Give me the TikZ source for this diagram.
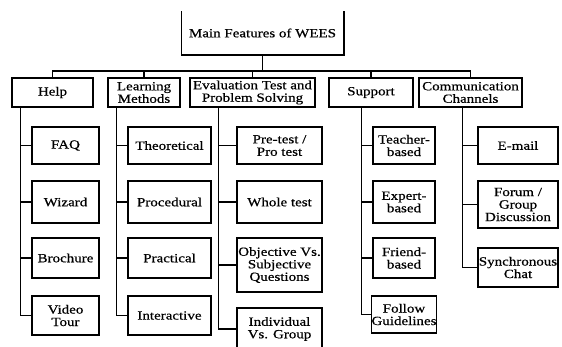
\documentclass[tikz,border=0pt]{standalone}
\usepackage{fontspec}
\setmainfont{Liberation Serif}[FakeStretch=1.2,FakeBold=0.6]
\begin{document}
\begin{tikzpicture}[x=1pt,y=-1pt,line width=1.5pt,
  box/.style={draw,align=center,inner sep=0pt,font=\fontsize{12.5}{12.5}\selectfont},
  boxsize/.style 2 args={minimum width=#1,minimum height=#2}]

  \useasboundingbox (0,0) rectangle (562,346);
  \clip (0,0) rectangle (562,346);

  % root
  \node[box,draw=none,boxsize={161}{42}] (main) at (262.5,33) {Main Features of WEES};
  \draw (main.north west) -- (main.south west) -- (main.south east) -- (main.north east);

  % first level
  \node[box,boxsize={81}{29}] (help) at (52.5,92.5) {Help};
  \node[box,boxsize={72}{29}] (learn) at (144,92.5) {Learning\\Methods};
  \node[box,boxsize={125}{29}] (eval) at (252.5,92.5) {Evaluation Test and\\Problem Solving};
  \node[box,boxsize={84}{29}] (supp) at (371,92.5) {Support};
  \node[box,boxsize={103}{29}] (comm) at (470.5,92.5) {Communication\\Channels};

  % help
  \node[box,boxsize={67}{37}] (faq) at (65.5,145.5) {FAQ};
  \node[box,boxsize={67}{42}] (wizard) at (65.5,202) {Wizard};
  \node[box,boxsize={67}{40}] (brochure) at (65.5,258) {Brochure};
  \node[box,boxsize={67}{39}] (video) at (65.5,315.5) {Video\\Tour};

  % learning methods
  \node[box,boxsize={83}{37}] (theo) at (169.5,145.5) {Theoretical};
  \node[box,boxsize={83}{42}] (proc) at (169.5,202) {Procedural};
  \node[box,boxsize={83}{40}] (prac) at (169.5,258) {Practical};
  \node[box,boxsize={83}{39}] (inter) at (169.5,315.5) {Interactive};

  % evaluation
  \node[box,boxsize={85}{37}] (pre) at (279.5,145.5) {Pre-test /\\Pro test};
  \node[box,boxsize={85}{42}] (whole) at (279.5,202) {Whole test};
  \node[box,boxsize={85}{54}] (obj) at (279.5,265) {Objective Vs.\\Subjective\\Questions};
  \node[box,boxsize={85}{42}] (indiv) at (279.5,329) {Individual\\Vs. Group};

  % support
  \node[box,boxsize={62}{37}] (teacher) at (404,145.5) {Teacher-\\based};
  \node[box,boxsize={62}{42}] (expert) at (404,202) {Expert-\\based};
  \node[box,boxsize={62}{40}] (friend) at (404,258) {Friend-\\based};
  \node[box,boxsize={62}{37}] (follow) at (404,314.5) {Follow\\Guidelines};

  % communication
  \node[box,boxsize={80}{37}] (email) at (518,145.5) {E-mail};
  \node[box,boxsize={80}{47}] (forum) at (518,204.5) {Forum /\\Group\\Discussion};
  \node[box,boxsize={80}{39}] (chat) at (518,267.5) {Synchronous\\Chat};

  % connectors
  \draw (main.south) -- ++(0,16) coordinate (bus);
  \foreach \n in {help,learn,eval,supp,comm}
    \draw (bus) -| (\n.north);

  \foreach \c in {faq,wizard,brochure,video}
    \draw ([xshift=9pt]help.south west) |- (\c.west);
  \foreach \c in {theo,proc,prac,inter}
    \draw ([xshift=9pt]learn.south west) |- (\c.west);
  \foreach \c in {pre,whole,obj,indiv}
    \draw ([xshift=29pt]eval.south west) |- (\c.west);
  \foreach \c in {teacher,expert,friend,follow}
    \draw ([xshift=33pt]supp.south west) |- (\c.west);
  \foreach \c in {email,forum,chat}
    \draw ([xshift=44pt]comm.south west) |- (\c.west);
\end{tikzpicture}
\end{document}
